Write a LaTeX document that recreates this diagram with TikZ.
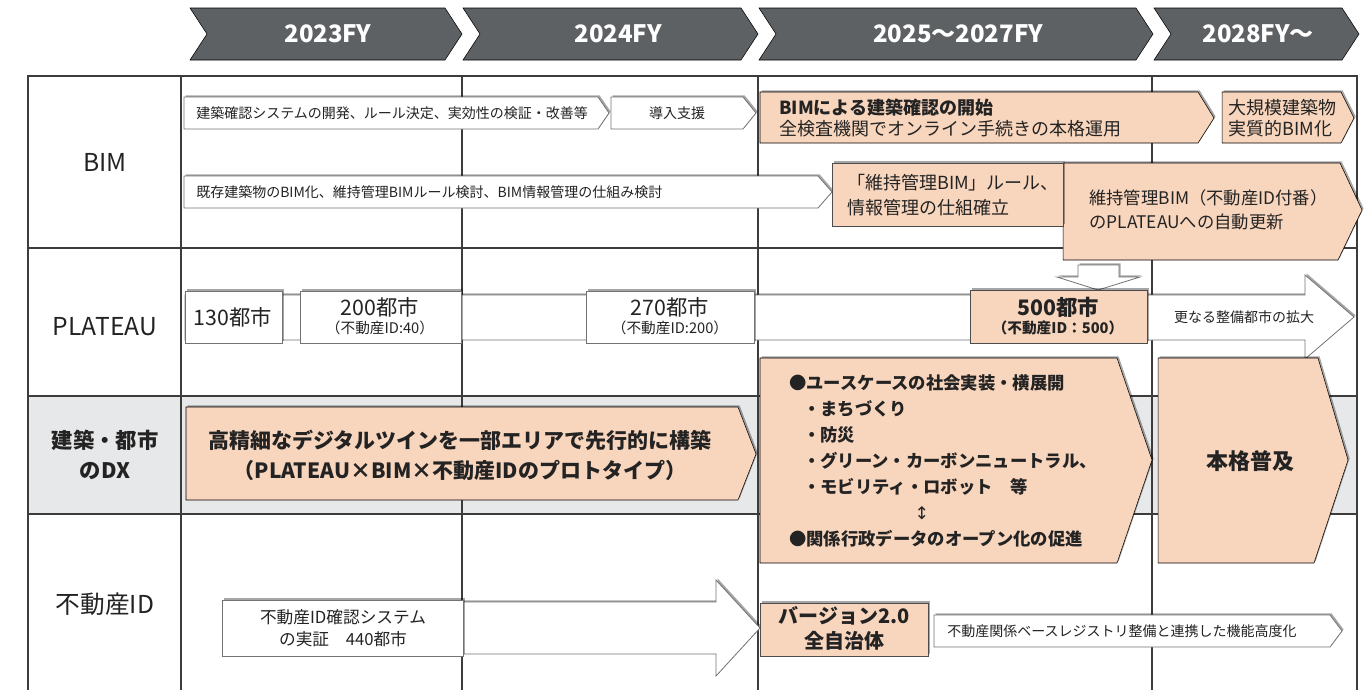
\documentclass[tikz,border=0pt]{standalone}
\usepackage{fontspec}
\setmainfont{Noto Sans CJK JP}
\newfontfamily\symfont{DejaVu Sans}
\usetikzlibrary{shadows}

\definecolor{hdgray}{RGB}{94,97,99}
\definecolor{salmon}{RGB}{248,213,189}
\definecolor{bandgray}{RGB}{231,232,234}
\definecolor{lngray}{RGB}{60,60,60}
\definecolor{txtgray}{RGB}{35,35,35}

\tikzset{
  hdchev/.style={fill=hdgray},
  tblline/.style={draw=lngray,line width=0.8pt},
  boxshadow/.style={drop shadow={shadow xshift=1.2pt,shadow yshift=1.2pt,opacity=0.35,fill=black}},
  whitebox/.style={draw=black!55,fill=white,line width=0.6pt,boxshadow},
  salmonbox/.style={fill=salmon,boxshadow},
  salmonrect/.style={draw=black!70,fill=salmon,line width=0.7pt,boxshadow},
  hdtxt/.style={inner sep=0.75pt,text=white,font=\fontsize{18}{20}\selectfont\bfseries},
  rowlabel/.style={inner sep=0.75pt,text=txtgray,font=\fontsize{18.5}{22.5}\selectfont,align=center},
  smalltxt/.style={inner sep=0.75pt,text=txtgray,font=\fontsize{10.5}{13}\selectfont},
  midtxt/.style={inner sep=0.75pt,text=txtgray,font=\fontsize{13.5}{16}\selectfont},
}

\begin{document}
\begin{tikzpicture}[x=0.75pt,y=0.75pt,yscale=-1,xscale=1]
\useasboundingbox (0,0) rectangle (1369,690);

%Shape: Chevrons of the years
\draw [hdchev] (190,8) -- (445,8) -- (462,34) -- (445,60) -- (190,60) -- (207,34) -- cycle ;
\draw [hdchev] (463,8) -- (741,8) -- (758,34) -- (741,60) -- (463,60) -- (480,34) -- cycle ;
\draw [hdchev] (759,8) -- (1136,8) -- (1153,34) -- (1136,60) -- (759,60) -- (776,34) -- cycle ;
\draw [hdchev] (1154,8) -- (1342,8) -- (1359,34) -- (1342,60) -- (1154,60) -- (1171,34) -- cycle ;

% Text Node
\draw (328,34) node (yr23) [hdtxt] {2023FY};
% Text Node
\draw (618,34) node (yr24) [hdtxt] {2024FY};
% Text Node
\draw (958,34) node (yr25) [hdtxt] {2025～2027FY};
% Text Node
\draw (1258,34) node (yr28) [hdtxt] {2028FY～};

%Shape: Rectangle (band of the DX row)
\fill [bandgray] (28,396) rectangle (1357,514) ;

%Shape: Table lines
\draw [tblline] (28,690) -- (28,76) -- (1357,76) -- (1357,690) ;
\draw [tblline] (28,248) -- (1357,248) ;
\draw [tblline] (28,396) -- (1357,396) ;
\draw [tblline] (28,514) -- (1357,514) ;
\draw [tblline] (181,76) -- (181,690) ;
\draw [tblline] (462,76) -- (462,690) ;
\draw [tblline] (758,76) -- (758,690) ;
\draw [tblline] (1152,76) -- (1152,690) ;

% Text Node
\draw (105,162) node (bimL) [rowlabel] {BIM};
% Text Node
\draw (105,327) node (platL) [rowlabel] {PLATEAU};
% Text Node
\draw (105,455) node (dxL) [rowlabel,font=\fontsize{16}{22.5}\selectfont\bfseries] {建築・都市\\のDX};
% Text Node
\draw (105,604) node (idL) [rowlabel] {不動産ID};

%Shape: Pentagon (BIM row)
\draw [whitebox] (184,97) -- (598,97) -- (609,113) -- (598,129) -- (184,129) -- cycle ;
\draw (195,113) node (bimA) [anchor=west][smalltxt] {建築確認システムの開発、ルール決定、実効性の検証・改善等};
\draw [whitebox] (611,97) -- (743,97) -- (756,113) -- (743,129) -- (611,129) -- cycle ;
\draw (677,113) node (bimB) [smalltxt] {導入支援};
\draw [salmonbox] (760,92) -- (1198,92) -- (1214,118) -- (1198,143) -- (760,143) -- cycle ;
\draw (778,118) node (bimC) [anchor=west][midtxt,align=left,font=\fontsize{13.5}{15.8}\selectfont] {\textbf{BIMによる建築確認の開始}\\全検査機関でオンライン手続きの本格運用};
\draw [salmonbox] (1222,92) -- (1341,92) -- (1354,118) -- (1341,143) -- (1222,143) -- cycle ;
\draw (1227,118) node (bimD) [anchor=west][midtxt,align=left,font=\fontsize{13.5}{15.8}\selectfont] {大規模建築物\\実質的BIM化};

\draw [whitebox] (184,176) -- (818,176) -- (832,192) -- (818,208) -- (184,208) -- cycle ;
\draw (195,192) node (bimE) [anchor=west][smalltxt] {既存建築物のBIM化、維持管理BIMルール検討、BIM情報管理の仕組み検討};
\draw [salmonbox] (1063,163) -- (1340,163) -- (1362,210) -- (1338,260) -- (1063,260) -- cycle ;
\draw (1088,210) node (bimG) [anchor=west][midtxt,align=left,font=\fontsize{13}{18}\selectfont] {維持管理BIM（不動産ID付番）\\のPLATEAUへの自動更新};
\draw [salmonrect] (832,163) rectangle (1063,226) ;
\draw (846,195) node (bimF) [anchor=west][midtxt,align=left,font=\fontsize{13.5}{18.8}\selectfont] {「維持管理BIM」ルール、\\情報管理の仕組確立};

%Shape: Down Arrow
\draw [whitebox] (1078,265) -- (1119,265) -- (1119,277) -- (1140,277) -- (1098,290) -- (1057,277) -- (1078,277) -- cycle ;

%Shape: Right Arrow (PLATEAU row)
\draw [whitebox] (185,295) -- (1305,295) -- (1305,275) -- (1354,317) -- (1305,359) -- (1305,340) -- (185,340) -- cycle ;
\draw (1244,317) node (platE) [smalltxt] {更なる整備都市の拡大};

%Shape: Rectangles of the cities
\draw [whitebox] (185,291) rectangle (282,343) ;
\draw (233,317) node (plat130) [midtxt,font=\fontsize{16}{18}\selectfont] {130都市};
\draw [whitebox] (300,291) rectangle (461,343) ;
\draw (380,316) node (plat200) [midtxt,align=center,font=\fontsize{16}{13.5}\selectfont] {200都市\\{\fontsize{11}{13.5}\selectfont （不動産ID:40）}};
\draw [whitebox] (586,291) rectangle (754,343) ;
\draw (670,316) node (plat270) [midtxt,align=center,font=\fontsize{16}{13.5}\selectfont] {270都市\\{\fontsize{11}{13.5}\selectfont （不動産ID:200）}};
\draw [salmonrect] (970,290) rectangle (1147,343) ;
\draw (1058,316) node (plat500) [midtxt,align=center,font=\fontsize{16}{14}\selectfont\bfseries] {500都市\\{\fontsize{11}{14}\selectfont （不動産ID：500）}};

%Shape: Pentagon (DX row)
\draw [salmonbox] (186,407) -- (738,407) -- (756,454) -- (738,500) -- (186,500) -- cycle ;
\draw (460,455) node (dxA) [midtxt,align=center,font=\fontsize{15.75}{22.5}\selectfont\bfseries] {高精細なデジタルツインを一部エリアで先行的に構築\\（PLATEAU×BIM×不動産IDのプロトタイプ）};
\draw [salmonbox] (760,358) -- (1117,358) -- (1152,460) -- (1117,563) -- (760,563) -- cycle ;
\draw (788,461) node (dxB) [anchor=west][midtxt,align=left,font=\fontsize{13}{19.5}\selectfont\bfseries] {●ユースケースの社会実装・横展開\\
\hspace*{0.8em}・まちづくり\\
\hspace*{0.8em}・防災\\
\hspace*{0.8em}・グリーン・カーボンニュートラル、\\
\hspace*{0.8em}・モビリティ・ロボット　等\\
\hspace*{94pt}{\symfont\mdseries ↕}\\
●関係行政データのオープン化の促進};
\draw [salmonbox] (1158,358) -- (1318,358) -- (1348,460) -- (1314,563) -- (1158,563) -- cycle ;
\draw (1250,461) node (dxC) [midtxt,font=\fontsize{16.5}{18}\selectfont\bfseries] {本格普及};

%Shape: Right Arrow (ID row)
\draw [whitebox] (462,602) -- (716,602) -- (716,580) -- (760,628) -- (716,676) -- (716,654) -- (462,654) -- cycle ;
\draw [whitebox] (222,600) rectangle (463,656) ;
\draw (343,628) node (idA) [midtxt,align=center,font=\fontsize{12.5}{16.5}\selectfont] {不動産ID確認システム\\の実証　440都市};
\draw [salmonrect] (760,603) rectangle (928,656) ;
\draw (844,628) node (idB) [midtxt,align=center,font=\fontsize{15}{18.8}\selectfont\bfseries] {バージョン2.0\\全自治体};
\draw [whitebox] (934,615) -- (1330,615) -- (1342,631) -- (1330,647) -- (934,647) -- cycle ;
\draw (946,631) node (idC) [anchor=west][smalltxt] {不動産関係ベースレジストリ整備と連携した機能高度化};

\end{tikzpicture}
\end{document}
